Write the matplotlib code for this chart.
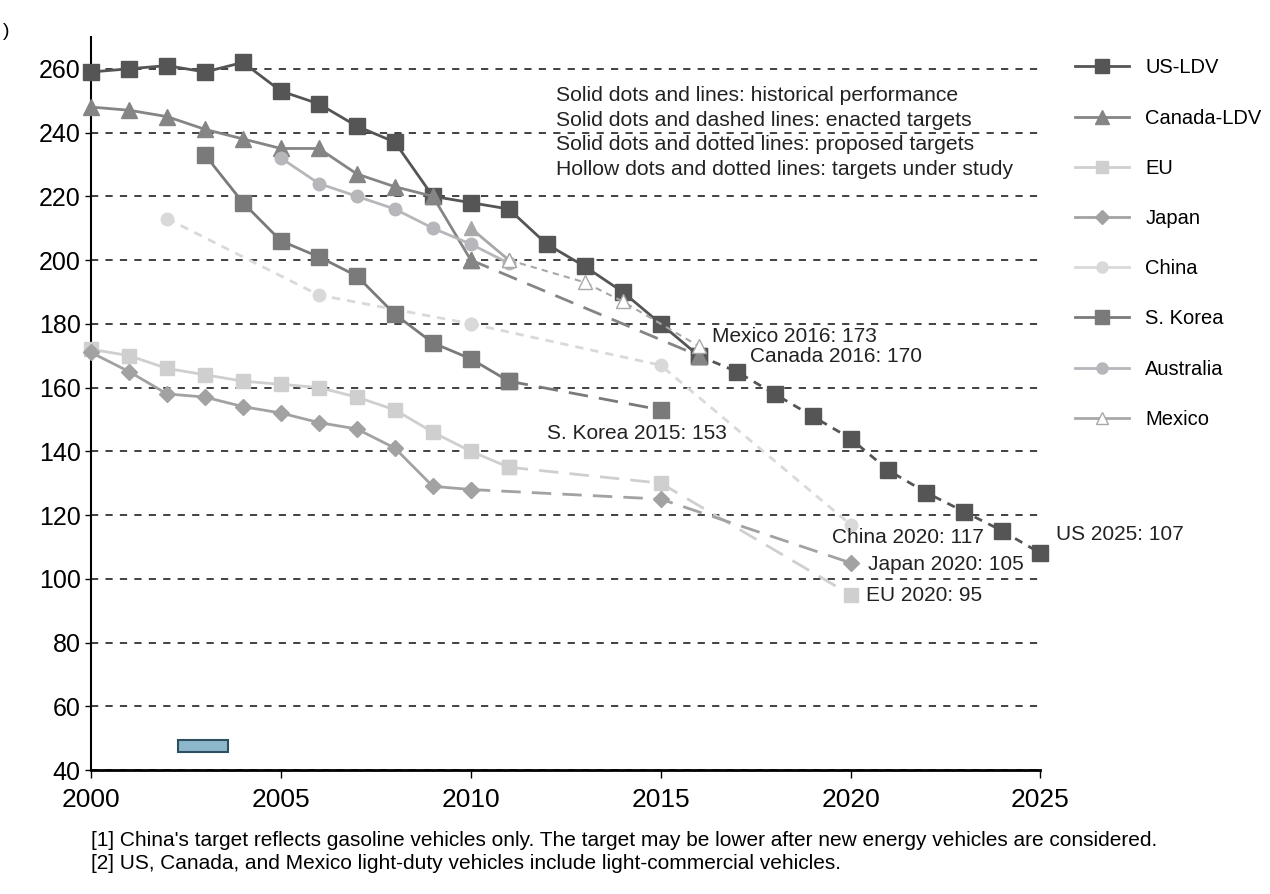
import matplotlib.pyplot as plt
from matplotlib.lines import Line2D
from matplotlib.patches import Rectangle

plt.rcParams['font.family'] = ['Liberation Sans', 'DejaVu Sans']

# values (g CO2/km), split into history and target parts
us_years = [2000, 2001, 2002, 2003, 2004, 2005, 2006, 2007, 2008, 2009, 2010, 2011,
            2012, 2013, 2014, 2015, 2016]
us_vals = [259, 260, 261, 259, 262, 253, 249, 242, 237, 220, 218, 216,
           205, 198, 190, 180, 170]
us_tgt_years = [2016, 2017, 2018, 2019, 2020, 2021, 2022, 2023, 2024, 2025]
us_tgt_vals = [170, 165, 158, 151, 144, 134, 127, 121, 115, 108]

ca_years = [2000, 2001, 2002, 2003, 2004, 2005, 2006, 2007, 2008, 2009, 2010]
ca_vals = [248, 247, 245, 241, 238, 235, 235, 227, 223, 220, 200]
ca_tgt_years = [2010, 2016]
ca_tgt_vals = [200, 170]

eu_years = [2000, 2001, 2002, 2003, 2004, 2005, 2006, 2007, 2008, 2009, 2010, 2011]
eu_vals = [172, 170, 166, 164, 162, 161, 160, 157, 153, 146, 140, 135]
eu_tgt_years = [2011, 2015, 2020]
eu_tgt_vals = [135, 130, 95]

jp_years = [2000, 2001, 2002, 2003, 2004, 2005, 2006, 2007, 2008, 2009, 2010]
jp_vals = [171, 165, 158, 157, 154, 152, 149, 147, 141, 129, 128]
jp_tgt_years = [2010, 2015, 2020]
jp_tgt_vals = [128, 125, 105]

cn_years = [2002, 2006, 2010]
cn_vals = [213, 189, 180]
cn_tgt_years = [2010, 2015, 2020]
cn_tgt_vals = [180, 167, 117]

kr_years = [2003, 2004, 2005, 2006, 2007, 2008, 2009, 2010, 2011]
kr_vals = [233, 218, 206, 201, 195, 183, 174, 169, 162]
kr_tgt_years = [2011, 2015]
kr_tgt_vals = [162, 153]

au_years = [2005, 2006, 2007, 2008, 2009, 2010, 2011]
au_vals = [232, 224, 220, 216, 210, 205, 199]

mx_years = [2010, 2011]
mx_vals = [210, 200]
mx_tgt_years = [2011, 2013, 2014, 2016]
mx_tgt_vals = [200, 193, 187, 173]

labels = ['US-LDV', 'Canada-LDV', 'EU', 'Japan', 'China', 'S. Korea', 'Australia', 'Mexico']
colors = ['#555555', '#858585', '#cfcfcf', '#a2a2a2', '#d9d9d9', '#7a7a7a', '#b7b7bb', '#a8a8a8']
markers = ['s', '^', 's', 'D', 'o', 's', 'o', '^']
sizes = [11, 11, 10, 8, 9, 11, 9, 10]

fig = plt.figure(figsize=(12.7, 8.94), dpi=100)
ax = fig.add_axes([0.0717, 0.1387, 0.7475, 0.82])

long_dash = (0, (7, 4))
short_dash = (0, (3, 2.5))


def draw(i, x, y, ls='-', hollow=False, lw=2.0):
    face = 'white' if hollow else colors[i]
    ax.plot(x, y, linestyle=ls, color=colors[i], lw=lw, marker=markers[i],
            ms=sizes[i], mfc=face, mec=colors[i], clip_on=False, zorder=3)


draw(0, us_years, us_vals)
draw(0, us_tgt_years, us_tgt_vals, ls=short_dash)
draw(1, ca_years, ca_vals)
draw(1, ca_tgt_years, ca_tgt_vals, ls=long_dash)
draw(2, eu_years, eu_vals)
draw(2, eu_tgt_years, eu_tgt_vals, ls=long_dash)
draw(3, jp_years, jp_vals)
draw(3, jp_tgt_years, jp_tgt_vals, ls=long_dash)
draw(4, cn_years, cn_vals, ls=short_dash)
draw(4, cn_tgt_years, cn_tgt_vals, ls=short_dash)
draw(5, kr_years, kr_vals)
draw(5, kr_tgt_years, kr_tgt_vals, ls=long_dash)
draw(6, au_years, au_vals)
draw(7, mx_years, mx_vals)
draw(7, mx_tgt_years, mx_tgt_vals, ls=short_dash, hollow=True, lw=1.5)

ax.set_xlim(2000, 2025)
ax.set_ylim(40, 270)
ax.set_xticks(range(2000, 2026, 5))
ax.set_yticks(range(40, 261, 20))
ax.tick_params(axis='x', labelsize=19, direction='out', length=6, width=1, pad=7)
ax.tick_params(axis='y', labelsize=18, direction='out', length=4, width=1)
for s in ['top', 'right']:
    ax.spines[s].set_visible(False)
ax.spines['left'].set_linewidth(1.5)
ax.spines['bottom'].set_linewidth(2)
ax.grid(axis='y', color='#333333', linestyle=(0, (4, 4)), lw=1.3)
ax.set_axisbelow(True)

# small blue box near the bottom left
ax.add_patch(Rectangle((2002.3, 45.5), 1.3, 4, facecolor='#8db8cc',
                       edgecolor='#2e4f5f', lw=1.5, zorder=2))

notes = ['Solid dots and lines: historical performance',
         'Solid dots and dashed lines: enacted targets',
         'Solid dots and dotted lines: proposed targets',
         'Hollow dots and dotted lines: targets under study']
for k, t in enumerate(notes):
    ax.text(2012.25, 251.5 - 7.7 * k, t, fontsize=15.2, va='center', ha='left',
            color='#222222')

ann = [('Mexico 2016: 173', 2016.35, 176), ('Canada 2016: 170', 2017.35, 169.6),
       ('S. Korea 2015: 153', 2012.0, 145.5), ('China 2020: 117', 2019.5, 112.8),
       ('Japan 2020: 105', 2020.45, 104.4), ('EU 2020: 95', 2020.4, 94.6),
       ('US 2025: 107', 2025.4, 113.8)]
for t, x, y in ann:
    ax.text(x, y, t, fontsize=15, va='center', ha='left', color='#222222',
            clip_on=False)

handles = []
for i in range(len(labels)):
    handles.append(Line2D([], [], color=colors[i], marker=markers[i], ms=sizes[i] - 1,
                          mfc='white' if i == 7 else colors[i], mec=colors[i], lw=2))
fig.legend(handles, labels, loc='upper left', bbox_to_anchor=(0.832, 0.955),
           frameon=False, fontsize=14.5, handlelength=2.7, labelspacing=1.55,
           handletextpad=0.8)

fig.text(0.0717, 0.0604, "[1] China's target reflects gasoline vehicles only. The target may "
         "be lower after new energy vehicles are considered.", fontsize=15, va='center')
fig.text(0.0717, 0.0336, "[2] US, Canada, and Mexico light-duty vehicles include "
         "light-commercial vehicles.", fontsize=15, va='center')
fig.text(0.002, 0.965, ')', fontsize=14, va='center')

fig.savefig('out.png', dpi=100)
